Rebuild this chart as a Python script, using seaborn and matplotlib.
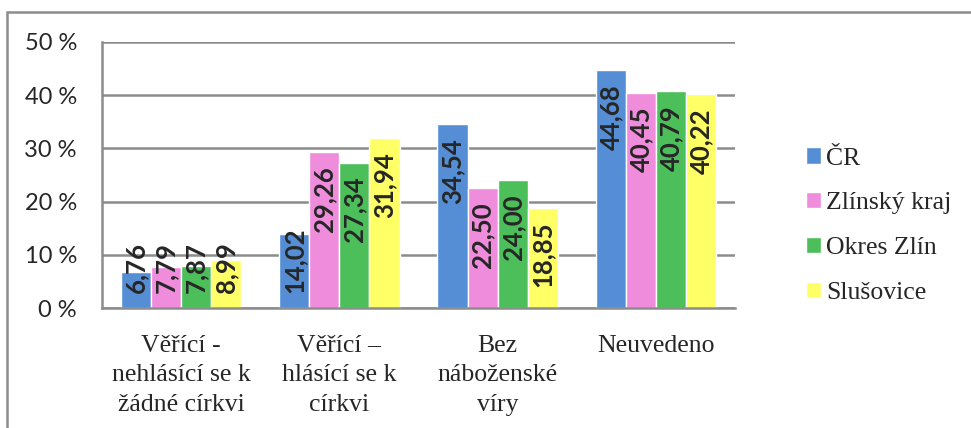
import pandas as pd
import numpy as np
import matplotlib
matplotlib.use("Agg")
import matplotlib.pyplot as plt
import seaborn as sns
from matplotlib.patches import Rectangle

# data
categories = ["Věřící -\nnehlásící se k\nžádné církvi",
              "Věřící –\nhlásící se k\ncírkvi",
              "Bez\nnáboženské\nvíry",
              "Neuvedeno"]
series = ["ČR", "Zlínský kraj", "Okres Zlín", "Slušovice"]
cr = [6.76, 14.02, 34.54, 44.68]
zlinsky_kraj = [7.79, 29.26, 22.50, 40.45]
okres_zlin = [7.87, 27.34, 24.00, 40.79]
slusovice = [8.99, 31.94, 18.85, 40.22]
colors = ["#558ED5", "#F08CDC", "#4CBF5A", "#FFFF66"]
yticks = [0, 10, 20, 30, 40, 50]

rows = []
for name, vals in zip(series, [cr, zlinsky_kraj, okres_zlin, slusovice]):
    for cat, v in zip(categories, vals):
        rows.append({"kategorie": cat, "oblast": name, "hodnota": v})
df = pd.DataFrame(rows)

sns.set_style("white")
plt.rcParams["font.family"] = ["Liberation Serif", "DejaVu Serif"]

fig = plt.figure(figsize=(9.71, 4.28), dpi=100)
ax = fig.add_axes([0.105, 0.280, 0.652, 0.622])

sns.barplot(data=df, x="kategorie", y="hodnota", hue="oblast",
            palette=colors, width=0.76, saturation=1, ax=ax, legend=True)

ax.set_ylim(0, 50)
ax.set_yticks(yticks)
ax.set_yticklabels([f"{t} %" for t in yticks], family="Lato", fontsize=17)
ax.yaxis.grid(True, color="#8C8C8C", linewidth=1.8)
ax.set_axisbelow(True)
ax.tick_params(axis="y", length=0, pad=18)
ax.tick_params(axis="x", length=0, pad=19)
for lbl in ax.get_xticklabels():
    lbl.set_family(["Liberation Serif", "DejaVu Serif"])
    lbl.set_fontsize(18.5)
    lbl.set_linespacing(1.45)
ax.set_xlabel("")
ax.set_ylabel("")
for side in ["top", "right"]:
    ax.spines[side].set_visible(False)
for side in ["left", "bottom"]:
    ax.spines[side].set_color("#8C8C8C")
    ax.spines[side].set_linewidth(1.8)

# value labels, rotated, inside the top of the bars
for cont in ax.containers:
    for bar in cont:
        v = bar.get_height()
        x = bar.get_x() + bar.get_width() / 2
        txt = f"{v:.2f}".replace(".", ",")
        if v >= 16:
            ax.annotate(txt, (x, v), xytext=(0, -14), textcoords="offset pixels",
                        rotation=90, ha="center", va="top",
                        family="Lato", fontweight="bold", fontsize=18.5)
        else:
            ax.annotate(txt, (x, 0), xytext=(0, 15), textcoords="offset pixels",
                        rotation=90, ha="center", va="bottom",
                        family="Lato", fontweight="bold", fontsize=18.5)

leg = ax.legend(loc="center left", bbox_to_anchor=(1.075, 0.31), frameon=False,
                prop={"family": "Liberation Serif", "size": 18.5},
                handlelength=0.6, handleheight=0.6,
                handletextpad=0.2, labelspacing=0.88)

# outer chart frame
fig.patches.append(Rectangle((0.007, -0.1), 1.1, 1.072, transform=fig.transFigure,
                             fill=False, edgecolor="#8C8C8C", linewidth=1.8))

fig.savefig("out.png", dpi=100)
